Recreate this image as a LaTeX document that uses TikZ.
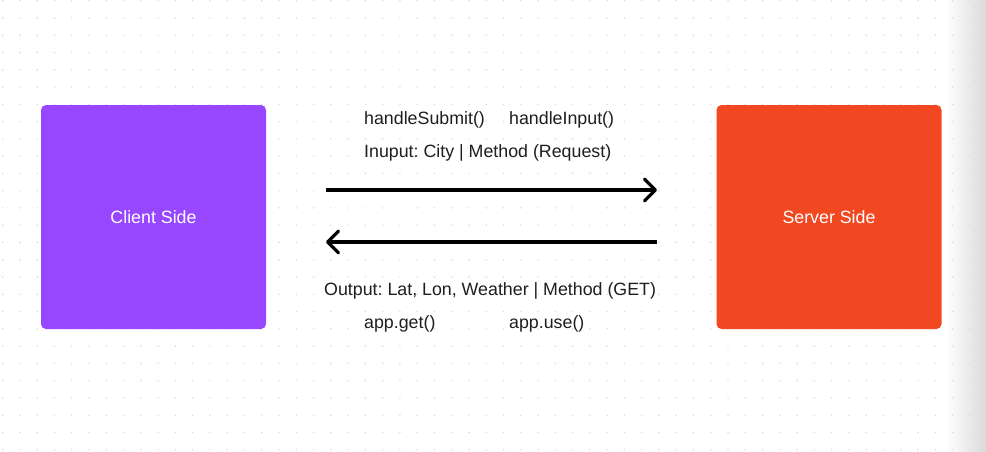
\documentclass[tikz,border=0pt]{standalone}
\usepackage{fontspec}
\setmainfont{Liberation Sans}
\usepackage{xcolor}
\usetikzlibrary{arrows.meta}
\definecolor{clientpurple}{HTML}{9747FF}
\definecolor{serverred}{HTML}{F24822}
\definecolor{ink}{HTML}{1E1E1E}
\definecolor{griddot}{HTML}{D9D9D9}
\definecolor{edgegray}{HTML}{DADADA}
\frenchspacing
\tikzset{> = {Straight Barb[length=11pt,width=22pt,round]}, color=ink}
\tikzset{sidebox/.style={rounded corners=5pt, minimum width=225pt, minimum height=224pt, inner sep=0pt, text=white, font=\fontsize{17.8}{21}\selectfont},
         lbl/.style={anchor=base west, inner sep=0pt, text=ink, font=\fontsize{17.8}{21}\selectfont},
         flow/.style={line width=3.2pt, ->}}

\begin{document}
\begin{tikzpicture}[x=1pt,y=-1pt]
		\fill[white] (0,0) rectangle (986,451);
		\useasboundingbox (0,0) rectangle (986,451);
		\shade[left color=white, right color=edgegray] (946,0) rectangle (986,451);
		\foreach \i in {0,...,56}
			\foreach \j in {0,...,26}
				\fill[griddot] (2.7+17.27*\i,0.7+17.27*\j) circle (0.8);
		\node[sidebox, fill=clientpurple] (client) at (153.5,217) {Client Side};
		\node[sidebox, fill=serverred] (server) at (829,217) {Server Side};
		\node[lbl] (submit) at (364,124) {handleSubmit()};
		\node[lbl] (input) at (509,124) {handleInput()};
		\node[lbl] (request) at (364,157) {Inuput: City | Method (Request)};
		\node[lbl] (response) at (324,295) {Output: Lat, Lon, Weather | Method (GET)};
		\node[lbl] (appget) at (364,328) {app.get()};
		\node[lbl] (appuse) at (509,328) {app.use()};
		\coordinate (reqstart) at (326,190);
		\coordinate (reqend) at (657,190);
		\coordinate (resstart) at (657,242);
		\coordinate (resend) at (326,242);
		\draw[flow] (reqstart) -- (reqend);
		\draw[flow] (resstart) -- (resend);
\end{tikzpicture}
\end{document}
